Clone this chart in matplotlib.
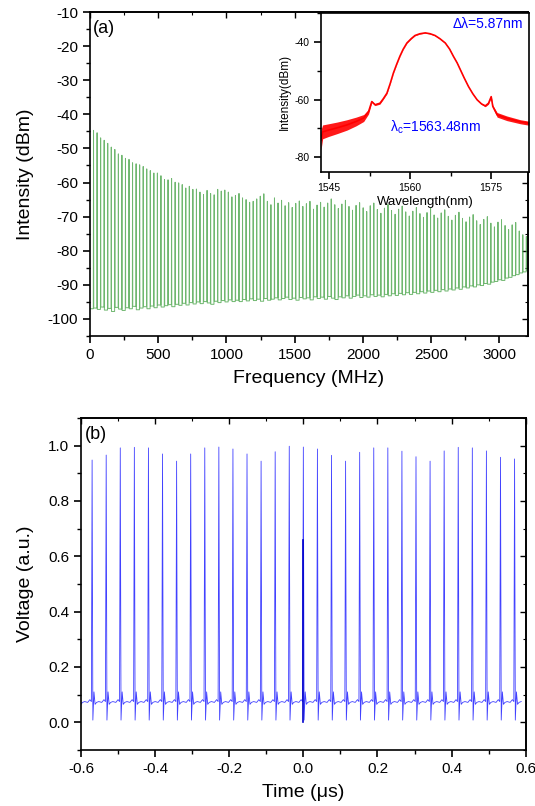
import matplotlib
matplotlib.use('Agg')
from matplotlib import pyplot as plt
from matplotlib.ticker import MultipleLocator, FormatStrFormatter

plt.rcParams['font.family'] = ['Liberation Sans', 'DejaVu Sans']
plt.rcParams['axes.unicode_minus'] = False
plt.rcParams['mathtext.default'] = 'regular'

# ---- (a) RF spectrum: comb lines every 26 MHz ----
comb_step_mhz = 26
peak_db = [
    -44.7, -45.4, -46.9, -47.6, -48.5, -49.6, -50.3, -51.6, -52.0, -52.9,
    -53.2, -54.2, -54.5, -54.8, -55.3, -56.0, -56.5, -57.2, -57.2, -58.0,
    -59.1, -59.2, -58.8, -59.9, -60.1, -60.6, -61.6, -61.1, -62.0, -61.9,
    -62.8, -63.5, -62.3, -63.2, -63.6, -62.0, -62.5, -62.2, -62.8, -64.2,
    -63.8, -63.2, -64.5, -65.0, -65.8, -65.5, -64.8, -64.0, -63.3, -65.5,
    -66.5, -64.5, -66.0, -65.2, -66.8, -65.9, -67.3, -66.1, -65.4, -67.0,
    -66.2, -65.5, -67.8, -66.6, -65.8, -67.2, -66.0, -64.8, -66.5, -67.6,
    -66.3, -65.2, -67.0, -68.1, -66.7, -65.9, -67.4, -68.5, -66.8, -66.0,
    -67.9, -69.0, -67.5, -66.4, -68.2, -69.3, -67.8, -66.9, -68.6, -69.8,
    -68.4, -67.3, -69.1, -70.2, -68.8, -67.6, -69.5, -70.4, -68.9, -68.0,
    -69.9, -71.0, -69.6, -68.7, -70.5, -71.5, -70.1, -69.4, -71.2, -72.3,
    -70.8, -70.0, -71.9, -73.0, -71.6, -70.9, -72.6, -73.8, -72.4, -71.7,
    -74.2, -75.3, -75.8,
]
floor_start_db = -97.0
floor_db = [
    -96.8, -97.2, -96.5, -97.4, -96.9, -97.8, -96.6, -97.1, -97.5, -96.7,
    -97.0, -96.3, -97.3, -96.8, -96.4, -97.0, -96.2, -96.7, -95.9, -96.5,
    -96.1, -95.8, -96.4, -95.7, -96.0, -95.4, -95.9, -95.2, -95.6, -95.0,
    -95.5, -94.9, -95.3, -95.7, -94.8, -95.2, -94.6, -95.0, -94.4, -94.9,
    -94.5, -94.9, -94.3, -94.7, -94.1, -94.6, -94.2, -94.8, -94.0, -94.5,
    -94.2, -93.8, -94.4, -94.0, -93.6, -94.3, -93.9, -94.5, -93.7, -94.1,
    -93.8, -94.4, -93.5, -94.0, -93.6, -94.2, -93.4, -93.9, -94.3, -93.5,
    -93.8, -93.2, -93.9, -93.4, -93.0, -93.7, -93.2, -93.6, -92.9, -93.4,
    -93.0, -93.5, -92.8, -93.2, -92.6, -93.1, -92.5, -92.9, -92.3, -92.8,
    -92.2, -92.6, -92.0, -92.4, -91.8, -92.2, -91.6, -92.0, -91.4, -91.8,
    -91.2, -91.5, -90.9, -91.3, -90.6, -90.9, -90.3, -90.6, -90.0, -90.2,
    -89.6, -89.8, -89.2, -89.0, -88.5, -88.7, -88.0, -87.8, -87.3, -87.0,
    -86.5, -86.2, -85.8,
]

# ---- inset: optical spectrum ----
wl_nm = [1543.5, 1543.8, 1544.9, 1546.5, 1548.3, 1550.0, 1551.4, 1552.3, 1552.9,
         1553.5, 1554.4, 1555.0, 1555.7, 1556.3, 1556.9, 1557.5, 1558.1, 1558.7,
         1559.4, 1560.2, 1560.9, 1561.8, 1562.8, 1563.7, 1564.6, 1565.5, 1566.5,
         1567.3, 1568.0, 1568.7, 1569.3, 1570.0, 1570.8, 1571.6, 1572.4, 1573.2,
         1573.9, 1574.5, 1575.0, 1575.3, 1576.1, 1577.9, 1580.4, 1582.0]
osa_db = [-74.0, -71.2, -70.6, -69.8, -68.8, -67.6, -66.4, -64.2, -60.7,
          -61.8, -61.3, -59.8, -57.8, -54.5, -50.8, -47.8, -45.0, -42.6,
          -40.4, -38.9, -37.8, -37.2, -36.9, -37.2, -37.8, -38.9, -40.4,
          -42.5, -45.0, -47.3, -49.7, -52.5, -55.5, -58.0, -60.1, -61.5,
          -62.2, -61.3, -59.0, -62.4, -65.3, -66.5, -67.7, -68.2]
osa_noise_db = [3.5, 2.4, 2.2, 2.0, 1.8, 1.5, 1.2, 0.8, 0.3,
                0.3, 0.3, 0.2, 0.2, 0.1, 0.1, 0.1, 0.1, 0.1,
                0.1, 0.1, 0.1, 0.1, 0.1, 0.1, 0.1, 0.1, 0.1,
                0.1, 0.1, 0.1, 0.1, 0.1, 0.1, 0.1, 0.1, 0.2,
                0.3, 0.3, 0.3, 0.4, 0.8, 0.8, 0.7, 0.7]

# ---- (b) pulse train: one pulse every 0.038 us ----
period_us = 0.038
pulse_index = list(range(-16, 16))
pulse_peak = [0.95,
              0.948, 0.966, 0.992, 0.994, 0.992, 0.970, 0.944, 0.970, 0.992, 0.995,
              0.988, 0.970, 0.944, 0.978, 0.998, 0.995, 0.988, 0.965, 0.944, 0.976,
              0.992, 0.992, 0.980, 0.960, 0.944, 0.981, 0.994, 0.992, 0.981, 0.958,
              0.952]
# shape of one pulse around its peak (offset in us, level in a.u.)
shape_dt = [-0.012, -0.006, -0.002, 0.0, 0.002, 0.005, 0.008, 0.012, 0.018]
shape_v = [0.072, 0.082, 0.075, None, 0.008, 0.110, 0.065, 0.072, 0.075]
marker_top = 0.66

fig = plt.figure(figsize=(5.35, 8.06), dpi=100)

# panel (a)
ax1 = fig.add_axes([0.1682, 0.5831, 0.8187, 0.4020])
fx = [0.0]
fy = [floor_start_db]
prev = floor_start_db
for k, (pk, fl) in enumerate(zip(peak_db, floor_db)):
    f = comb_step_mhz * (k + 1)
    fx += [f - 1.5, f, f + 1.5]
    fy += [prev, pk, fl]
    prev = fl
ax1.plot(fx, fy, color='#3f9f3f', lw=0.7, alpha=0.75)
ax1.set_xlim(0, 3210)
ax1.set_ylim(-105, -10)
ax1.xaxis.set_major_locator(MultipleLocator(500))
ax1.xaxis.set_minor_locator(MultipleLocator(250))
ax1.yaxis.set_minor_locator(MultipleLocator(5))
ax1.set_yticks(range(-100, -9, 10))
ax1.set_xlabel('Frequency (MHz)', fontsize=14, labelpad=6)
ax1.set_ylabel('Intensity (dBm)', fontsize=14, labelpad=10)
ax1.text(0.006, 0.975, '(a)', transform=ax1.transAxes, fontsize=13,
         ha='left', va='top')

# inset
axi = fig.add_axes([0.600, 0.787, 0.3888, 0.1969])
lo = [v - n for v, n in zip(osa_db, osa_noise_db)]
hi = [v + n for v, n in zip(osa_db, osa_noise_db)]
axi.fill_between(wl_nm, lo, hi, color='red', lw=0, alpha=0.9)
axi.plot(wl_nm, osa_db, color='red', lw=1.2)
axi.set_xlim(1543.5, 1582.0)
axi.set_ylim(-85, -30)
axi.set_xticks([1545, 1560, 1575])
axi.xaxis.set_minor_locator(MultipleLocator(7.5))
axi.set_yticks([-40, -60, -80])
axi.yaxis.set_minor_locator(MultipleLocator(10))
axi.tick_params(labelsize=7.5)
axi.set_xlabel('Wavelength(nm)', fontsize=9.5, labelpad=2)
axi.set_ylabel('Intensity(dBm)', fontsize=8.5, labelpad=2)
axi.text(0.97, 0.93, 'Δλ=5.87nm', transform=axi.transAxes, color='blue',
         fontsize=10, ha='right', va='center')
axi.text(0.33, 0.28, 'λ$_c$=1563.48nm', transform=axi.transAxes, color='blue',
         fontsize=10, ha='left', va='center')

# panel (b)
ax2 = fig.add_axes([0.1514, 0.0695, 0.8312, 0.4119])
tx, vy = [], []
for k, pk in zip(pulse_index, pulse_peak):
    t0 = k * period_us
    for dt, v in zip(shape_dt, shape_v):
        tx.append(t0 + dt)
        vy.append(pk if v is None else v)
ax2.plot(tx, vy, color='#2020ff', lw=0.6, alpha=0.85)
ax2.plot([0.0, 0.0], [0.0, marker_top], color='#0000cc', lw=1.2)
ax2.set_xlim(-0.6, 0.6)
ax2.set_ylim(-0.1, 1.1)
ax2.xaxis.set_major_locator(MultipleLocator(0.2))
ax2.xaxis.set_minor_locator(MultipleLocator(0.1))
ax2.yaxis.set_minor_locator(MultipleLocator(0.1))
ax2.set_yticks([0.0, 0.2, 0.4, 0.6, 0.8, 1.0])
ax2.xaxis.set_major_formatter(FormatStrFormatter('%.1f'))
ax2.yaxis.set_major_formatter(FormatStrFormatter('%.1f'))
ax2.set_xlabel('Time (μs)', fontsize=14, labelpad=6)
ax2.set_ylabel('Voltage (a.u.)', fontsize=14, labelpad=10)
ax2.text(0.008, 0.975, '(b)', transform=ax2.transAxes, fontsize=13,
         ha='left', va='top')

for ax in (ax1, ax2):
    ax.tick_params(labelsize=11)
for ax in (ax1, ax2, axi):
    for s in ax.spines.values():
        s.set_linewidth(1.2)
    ax.tick_params(which='major', direction='out', length=5, width=1.2)
    ax.tick_params(which='minor', direction='out', length=3, width=1.0)
    ax.tick_params(which='both', top=False, right=False)

# mirrored inward ticks on top and right spines (no labels)
for ax in (ax1, ax2):
    top = ax.secondary_xaxis('top')
    top.set_xticks(ax.get_xticks())
    top.xaxis.set_minor_locator(ax.xaxis.get_minor_locator())
    right = ax.secondary_yaxis('right')
    right.set_yticks(ax.get_yticks())
    right.yaxis.set_minor_locator(ax.yaxis.get_minor_locator())
    for sec in (top, right):
        sec.tick_params(which='major', direction='in', length=4, width=1.0,
                        labelleft=False, labelright=False,
                        labeltop=False, labelbottom=False)
        sec.tick_params(which='minor', direction='in', length=2, width=0.8)
        for s in sec.spines.values():
            s.set_linewidth(1.2)

fig.savefig('out.png', dpi=100)
plt.close(fig)
